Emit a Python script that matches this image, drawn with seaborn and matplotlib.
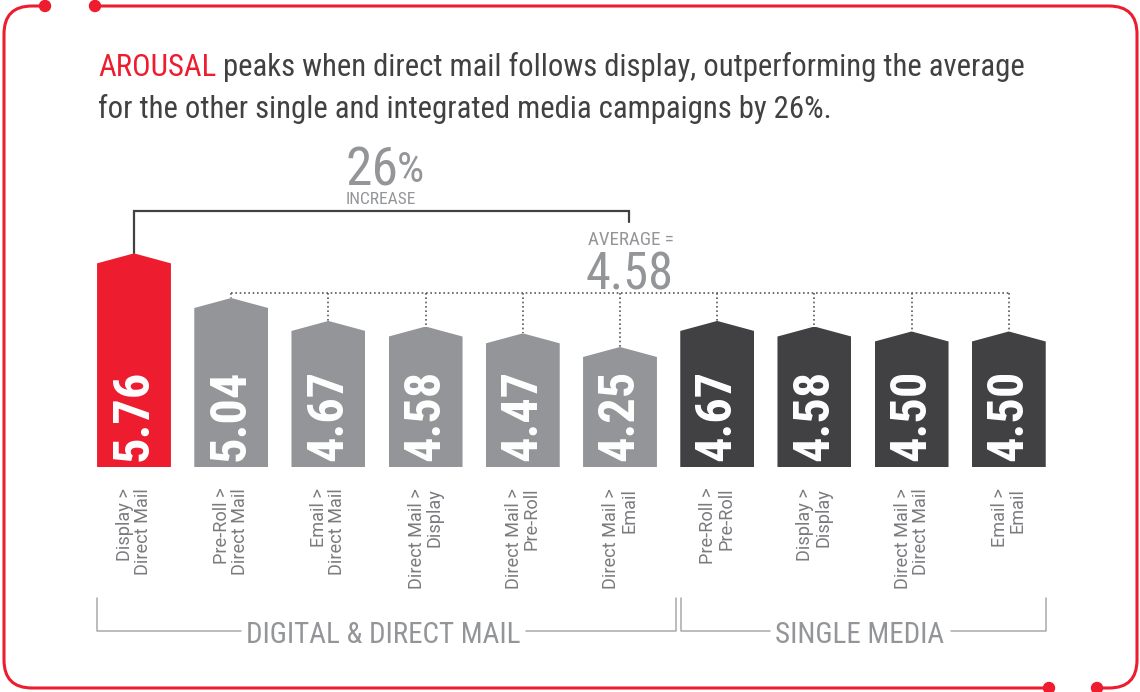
import pandas as pd
import seaborn as sns
import matplotlib.pyplot as plt
from matplotlib import font_manager
from matplotlib.patches import Polygon, FancyBboxPatch, Circle
from matplotlib.lines import Line2D
from matplotlib.transforms import IdentityTransform

# data
combos = ['Display >\nDirect Mail', 'Pre-Roll >\nDirect Mail', 'Email >\nDirect Mail',
          'Direct Mail >\nDisplay', 'Direct Mail >\nPre-Roll', 'Direct Mail >\nEmail',
          'Pre-Roll >\nPre-Roll', 'Display >\nDisplay', 'Direct Mail >\nDirect Mail',
          'Email >\nEmail']
scores = [5.76, 5.04, 4.67, 4.58, 4.47, 4.25, 4.67, 4.58, 4.50, 4.50]
group_names = ['DIGITAL & DIRECT MAIL', 'SINGLE MEDIA']
average = 4.58
increase = 26

RED = '#ED1C2E'
GRAY = '#939598'
DARK = '#414042'
bar_colors = [RED] + [GRAY] * 5 + [DARK] * 4

W, H = 1140, 692

sns.set_theme(style='white')
names = {f.name for f in font_manager.fontManager.ttflist}


def pick(*fams):
    for f in fams:
        if f in names:
            return f
    return 'DejaVu Sans'


cond = pick('Roboto Condensed', 'Liberation Sans Narrow', 'Open Sans Condensed', 'Liberation Sans')
reg = pick('Roboto', 'Open Sans', 'Lato', 'Liberation Sans')
plt.rcParams['font.family'] = [cond, 'DejaVu Sans']

fig = plt.figure(figsize=(W / 100, H / 100), dpi=100)
fig.patch.set_facecolor('white')
rend = fig.canvas.get_renderer()

# bar axes: bar 0 centred at x=134px, 97.2px per bar, baseline at y=467px
step = 97.2
ppu = 62.0  # pixels per score unit
ax = fig.add_axes([(134 - step / 2) / W, (H - 467) / H, 10 * step / W, 467 / H])
df = pd.DataFrame({'combo': combos, 'score': scores})
sns.barplot(data=df, x='combo', y='score', hue='combo', palette=bar_colors,
            saturation=1, width=0.76, legend=False, linewidth=0, ax=ax)
base = scores[1] - (467 - 298) / ppu
ax.set_xlim(-0.5, 9.5)
ax.set_ylim(base, base + 467 / ppu)
ax.axis('off')


def ydat(py):
    return ax.transData.inverted().transform((0, H - py))[1]


def xdat(px):
    return ax.transData.inverted().transform((px, 0))[0]


def fit(t, px, vertical=False):
    bb = t.get_window_extent(rend)
    size = bb.height if vertical else bb.width
    t.set_fontsize(t.get_fontsize() * px / size)
    return t.get_fontsize()


# pointed bar tops
cap = 10 / ppu
centers = []
for p in ax.patches:
    x0, w = p.get_x(), p.get_width()
    top = p.get_y() + p.get_height()
    clip = Polygon([(x0, base), (x0, top - cap), (x0 + w / 2, top),
                    (x0 + w, top - cap), (x0 + w, base)], closed=True,
                   transform=ax.transData)
    p.set_clip_path(clip)
    centers.append(x0 + w / 2)

# value labels inside the bars
vals = []
for xc, s in zip(centers, scores):
    vals.append(ax.text(xc, ydat(461), f'{s:.2f}', rotation=90, ha='center',
                        va='bottom', color='white', fontweight='bold', fontsize=30))
fs = fit(vals[0], 91, vertical=True)
for t in vals:
    t.set_fontsize(fs)

# category labels under the bars
cats = []
for xc, c in zip(centers, combos):
    cats.append(ax.text(xc, ydat(488), c, rotation=90, ha='center', va='top',
                        multialignment='right', linespacing=1.0, color='#7A7B7E',
                        fontsize=12, clip_on=False, family=[reg, 'DejaVu Sans']))
fs = fit(cats[0], 86, vertical=True)
for t in cats:
    t.set_fontsize(fs)

# average connector (dotted)
line_y = ydat(293)
dot = dict(color='#58595B', lw=1.2, ls=(0, (1, 1.6)), clip_on=False)
ax.plot([centers[1], centers[-1]], [line_y, line_y], **dot)
for xc, s in zip(centers[1:], scores[1:]):
    ax.plot([xc, xc], [line_y, s], **dot)

# 26% bracket
bx = xdat(629)
ax.plot([centers[0], centers[0], bx, bx], [scores[0], ydat(211), ydat(211), ydat(222)],
        color=DARK, lw=1.6, clip_on=False, solid_joinstyle='miter')

t = ax.text(xdat(345), ydat(185), f'{increase}', color=GRAY, fontsize=36, va='baseline')
fit(t, 53)
t = ax.text(xdat(397), ydat(150), '%', color=GRAY, fontsize=18, va='top')
fit(t, 27)
t = ax.text(xdat(381), ydat(204), 'INCREASE', color=GRAY, fontsize=10, ha='center', va='baseline')
fit(t, 70)
t = ax.text(xdat(674), ydat(245), 'AVERAGE =', color=GRAY, fontsize=10, ha='right', va='baseline')
fit(t, 86)
t = ax.text(xdat(674), ydat(289), f'{average:.2f}', color=GRAY, fontsize=36, ha='right', va='baseline')
fit(t, 88)

# group brackets
gline = dict(color='#A7A9AC', lw=1.1, clip_on=False)
g_left = [-0.38, 5.63]
g_right = [5.58, 9.38]
g_mid = [383, 860]
g_width = [275, 169]
gy, gtop = ydat(631), ydat(598)
gfs = None
for name, xl, xr, xm, gw in zip(group_names, g_left, g_right, g_mid, g_width):
    t = ax.text(xdat(xm), ydat(643), name, color=GRAY, fontsize=20, ha='center',
                va='baseline', clip_on=False)
    if gfs is None:
        gfs = fit(t, gw)
    t.set_fontsize(gfs)
    bb = t.get_window_extent(rend)
    ax.plot([xl, xl, xdat(bb.x0 - 5)], [gtop, gy, gy], **gline)
    ax.plot([xdat(bb.x1 + 6), xr, xr], [gy, gy, gtop], **gline)

# title
line2 = 'for the other single and integrated media campaigns by 26%.'
t2 = fig.text(98 / W, 1 - 118 / H, line2, color=DARK, fontsize=20, va='baseline')
tfs = fit(t2, 734)
ta = fig.text(98 / W, 1 - 76 / H, 'AROUSAL', color=RED, fontsize=tfs, va='baseline')
bb = ta.get_window_extent(rend)
fig.text(bb.x1 / W, 1 - 76 / H, ' peaks when direct mail follows display, outperforming the average',
         color=DARK, fontsize=tfs, va='baseline')

# rounded red frame with dotted gaps
idt = IdentityTransform()
fig.add_artist(FancyBboxPatch((4, H - 688), 1133, 682, boxstyle='round,pad=0,rounding_size=28',
                              fc='none', ec=RED, lw=2.2, transform=idt, zorder=1))
for xa, xb, y in [(45, 95, 6), (1049, 1097, 688)]:
    fig.add_artist(Line2D([xa, xb], [H - y, H - y], color='white', lw=5, transform=idt, zorder=2))
    for xx in (xa, xb):
        fig.add_artist(Circle((xx, H - y), 5.5, color=RED, transform=idt, zorder=3))

fig.savefig('out.png', dpi=100)
